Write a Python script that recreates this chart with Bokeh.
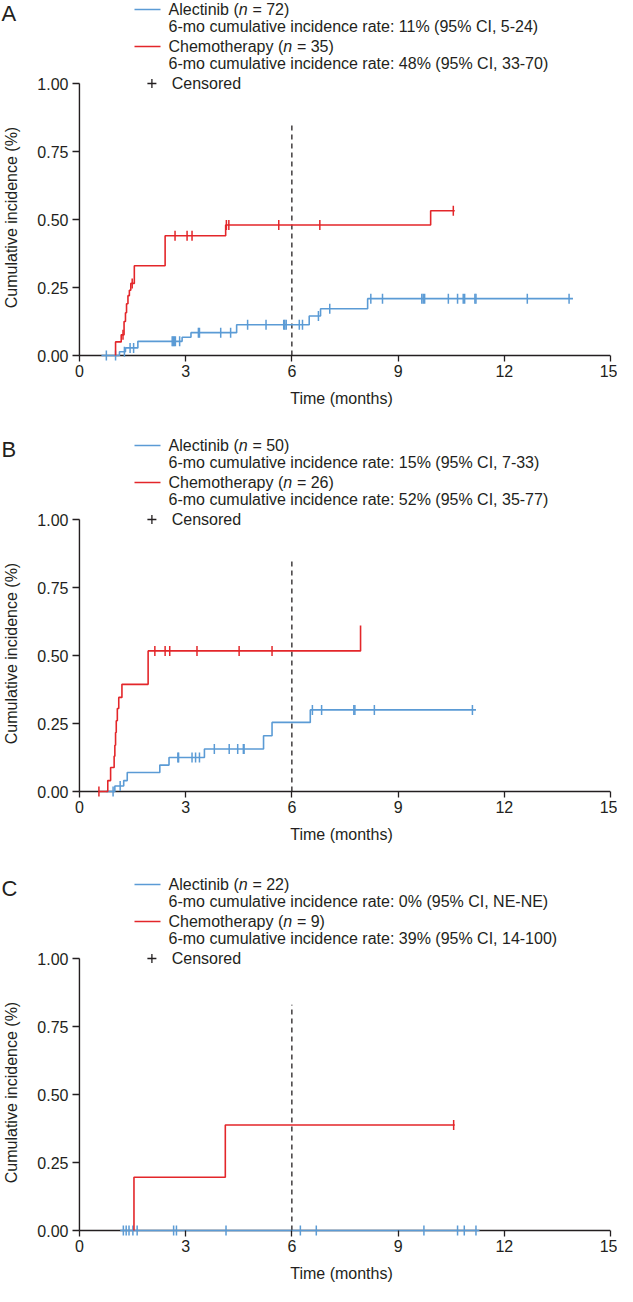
import numpy as np
from bokeh.plotting import figure
from bokeh.models import Range1d, FixedTicker, PrintfTickFormatter
from bokeh.core.properties import value
from bokeh.layouts import column
from bokeh.embed import file_html
from bokeh.resources import INLINE

# ---------------- data ----------------
x_ticks = [0, 3, 6, 9, 12, 15]
y_ticks = [0, 0.25, 0.5, 0.75, 1.0]
landmark_month = 6

# Panel A
A_alec_t = [0.62, 1.13, 1.30, 1.65, 2.90, 3.15, 4.44, 6.49, 6.81, 8.14, 13.94]
A_alec_v = [0.0, 0.014, 0.028, 0.052, 0.067, 0.084, 0.113, 0.145, 0.172, 0.209, 0.209]
A_alec_cens_t = [0.76, 1.02, 1.27, 1.43, 1.53, 2.62, 2.65, 2.68, 2.71, 2.83, 3.36, 3.39, 3.99, 4.27,
                 4.75, 5.27, 5.77, 5.80, 5.84, 6.21, 6.30, 6.75, 7.07, 8.23, 8.56, 9.67, 9.71, 9.75,
                 10.42, 10.68, 10.84, 10.88, 11.17, 11.20, 12.65, 13.83]
A_alec_cens_v = [0.0, 0.0, 0.014, 0.028, 0.028, 0.052, 0.052, 0.052, 0.052, 0.052, 0.084, 0.084, 0.084, 0.084,
                 0.113, 0.113, 0.113, 0.113, 0.113, 0.113, 0.113, 0.145, 0.172, 0.209, 0.209, 0.209, 0.209, 0.209,
                 0.209, 0.209, 0.209, 0.209, 0.209, 0.209, 0.209, 0.209]
A_chemo_t = [1.02, 1.02, 1.18, 1.26, 1.30, 1.33, 1.37, 1.41, 1.45, 1.55, 2.42, 4.13, 9.92, 10.60]
A_chemo_v = [0.0, 0.05, 0.076, 0.125, 0.157, 0.19, 0.22, 0.24, 0.265, 0.33, 0.44, 0.48, 0.532, 0.532]
A_chemo_cens_t = [1.23, 1.49, 2.70, 3.04, 3.18, 4.15, 4.22, 5.63, 6.79, 10.56]
A_chemo_cens_v = [0.076, 0.265, 0.44, 0.44, 0.44, 0.48, 0.48, 0.48, 0.48, 0.532]

# Panel B
B_alec_t = [0.75, 1.00, 1.25, 1.35, 2.27, 2.53, 3.53, 5.20, 5.44, 6.52, 11.20]
B_alec_v = [0.0, 0.02, 0.04, 0.07, 0.097, 0.125, 0.156, 0.205, 0.254, 0.30, 0.30]
B_alec_cens_t = [0.95, 1.15, 2.78, 2.80, 3.18, 3.28, 3.39, 3.81, 4.23, 4.47, 4.63, 4.65,
                 6.58, 6.84, 7.75, 7.78, 8.33, 11.10]
B_alec_cens_v = [0.0, 0.02, 0.125, 0.125, 0.125, 0.125, 0.125, 0.156, 0.156, 0.156, 0.156, 0.156,
                 0.30, 0.30, 0.30, 0.30, 0.30, 0.30]
B_chemo_t = [0.55, 0.80, 0.88, 0.98, 1.00, 1.02, 1.04, 1.07, 1.11, 1.20, 1.94, 7.94]
B_chemo_v = [0.0, 0.04, 0.088, 0.13, 0.17, 0.217, 0.26, 0.305, 0.346, 0.394, 0.517, 0.61]
B_chemo_cens_t = [0.55, 2.13, 2.42, 2.55, 3.32, 4.51, 5.44]
B_chemo_cens_v = [0.0, 0.517, 0.517, 0.517, 0.517, 0.517, 0.517]

# Panel C
C_alec_t = [1.15, 11.30]
C_alec_v = [0.0, 0.0]
C_alec_cens_t = [1.24, 1.32, 1.40, 1.51, 1.63, 2.66, 2.74, 4.14, 6.24, 6.69, 9.73, 10.68, 10.87, 11.20]
C_alec_cens_v = [0.0] * 14
C_chemo_t = [1.54, 1.54, 4.12, 10.60]
C_chemo_v = [0.0, 0.196, 0.388, 0.388]
C_chemo_cens_t = [10.57]
C_chemo_cens_v = [0.388]

legends = {
    "A": [("Alectinib (", "72", "6-mo cumulative incidence rate: 11% (95% CI, 5-24)"),
          ("Chemotherapy (", "35", "6-mo cumulative incidence rate: 48% (95% CI, 33-70)")],
    "B": [("Alectinib (", "50", "6-mo cumulative incidence rate: 15% (95% CI, 7-33)"),
          ("Chemotherapy (", "26", "6-mo cumulative incidence rate: 52% (95% CI, 35-77)")],
    "C": [("Alectinib (", "22", "6-mo cumulative incidence rate: 0% (95% CI, NE-NE)"),
          ("Chemotherapy (", "9", "6-mo cumulative incidence rate: 39% (95% CI, 14-100)")],
}
dash_top = {"A": 0.86, "B": 0.86, "C": 0.83}

# ---------------- style / layout ----------------
FONT = "Liberation Sans"
FS = 16
BLUE = "#5B9BD5"
RED = "#E3262A"
INK = "#231F20"
PPM = 35.67   # px per month
PPU = 272.0   # px per unit of y
XT = 6        # x tick length
YT = 7        # y tick length
W = 617
LEFT = 68
RIGHT = 7
MAIN_TOP = 10                 # px of main frame above y = 1.0
ROWS = [74, 57, 37, 20, 0]    # legend row offsets above y = 1.0 (px)
PRE_W = {"Alectinib (": 4.390, "Chemotherapy (": 7.169}   # em widths


def px_x(page_x):
    return (page_x - (8 + LEFT + YT)) / PPM


def ry(off):
    return 1 + off / PPU


def txt(p, x, y, text, size=FS, style="normal", color=INK):
    p.text(x=[x], y=[y], text=[text], text_font=value(FONT), text_font_size=f"{size}px",
           text_font_style=style, text_color=color, text_align="left", text_baseline="middle")


def no_align(p):
    try:
        p.frame_align = False
    except Exception:
        pass


def legend_entries(p, letter):
    x_line0, x_line1, x_text = px_x(142), px_x(168), px_x(176)
    for i, ((pre, n, rate), color) in enumerate(zip(legends[letter], (BLUE, RED))):
        y_name, y_rate = ry(ROWS[2 * i]), ry(ROWS[2 * i + 1])
        p.line([x_line0, x_line1], [y_name, y_name], line_color=color, line_width=1.6)
        pre_w = PRE_W[pre] * FS
        txt(p, x_text, y_name, pre)
        txt(p, x_text + pre_w / PPM, y_name, "n", style="italic")
        txt(p, x_text + (pre_w + 0.556 * FS + 0.30 * FS) / PPM, y_name, "= " + n + ")")
        txt(p, x_text, y_rate, rate)


def header(letter, top_px):
    h = int(top_px - MAIN_TOP)
    p = figure(width=W, height=h, output_backend="svg", toolbar_location=None,
               x_range=Range1d(px_x(8), px_x(8 + W)), y_range=Range1d(ry(MAIN_TOP), ry(top_px)),
               x_axis_type=None, y_axis_type=None, min_border=0, title=None)
    no_align(p)
    p.outline_line_color = None
    p.grid.visible = False
    txt(p, px_x(9), ry(ROWS[0] - 4), letter, size=22)
    legend_entries(p, letter)
    return p


def panel(letter, bottom, alec, chemo):
    height = int(MAIN_TOP + PPU + XT + bottom)
    p = figure(width=W, height=height, output_backend="svg", toolbar_location=None,
               x_range=Range1d(-YT / PPM, 15), y_range=Range1d(-XT / PPU, ry(MAIN_TOP)),
               min_border_left=LEFT, min_border_right=RIGHT, min_border_top=0,
               min_border_bottom=bottom, title=None)
    no_align(p)
    p.outline_line_color = None
    p.grid.visible = False

    for ax in (p.xaxis[0], p.yaxis[0]):
        ax.axis_line_color = None
        ax.minor_tick_line_color = None
        ax.major_tick_out = 0
        ax.major_tick_line_color = INK
        ax.major_tick_line_width = 1.3
        ax.major_label_text_font = FONT
        ax.major_label_text_font_size = f"{FS}px"
        ax.major_label_text_color = INK
        ax.axis_label_text_font = FONT
        ax.axis_label_text_font_size = f"{FS}px"
        ax.axis_label_text_font_style = "normal"
        ax.axis_label_text_color = INK
    xa = p.xaxis[0]
    xa.ticker = FixedTicker(ticks=x_ticks)
    xa.major_tick_in = XT
    xa.major_label_standoff = 3
    xa.axis_label = "Time (months)"
    xa.axis_label_standoff = 10
    ya = p.yaxis[0]
    ya.ticker = FixedTicker(ticks=y_ticks)
    ya.formatter = PrintfTickFormatter(format="%.2f")
    ya.major_tick_in = YT
    ya.major_label_standoff = 4
    ya.axis_label = "Cumulative incidence (%)"
    ya.axis_label_standoff = 14

    # axis lines
    p.segment(x0=[x_ticks[0]], y0=[y_ticks[0]], x1=[x_ticks[-1]], y1=[y_ticks[0]],
              line_color=INK, line_width=1.4)
    p.segment(x0=[x_ticks[0]], y0=[y_ticks[0]], x1=[x_ticks[0]], y1=[y_ticks[-1]],
              line_color=INK, line_width=1.4)
    # landmark at 6 months
    p.segment(x0=[landmark_month], y0=[0], x1=[landmark_month], y1=[dash_top[letter]],
              line_color=INK, line_width=1.3, line_dash="5 4")

    for (t, v, ct, cv), color in ((alec, BLUE), (chemo, RED)):
        p.step(t, v, mode="after", line_color=color, line_width=1.6)
        p.scatter(ct, cv, marker="dash", angle=np.pi / 2, size=10,
                  line_color=color, line_width=1.5)

    # "Censored" legend row (level with the 1.00 tick)
    p.scatter([px_x(156)], [ry(ROWS[4])], marker="cross", size=9, line_color=INK, line_width=1.3)
    txt(p, px_x(176), ry(ROWS[4]), "Censored")
    return p


hA = header("A", 83)
pA = panel("A", 56, (A_alec_t, A_alec_v, A_alec_cens_t, A_alec_cens_v),
           (A_chemo_t, A_chemo_v, A_chemo_cens_t, A_chemo_cens_v))
hB = header("B", 102)
pB = panel("B", 57, (B_alec_t, B_alec_v, B_alec_cens_t, B_alec_cens_v),
           (B_chemo_t, B_chemo_v, B_chemo_cens_t, B_chemo_cens_v))
hC = header("C", 104)
pC = panel("C", 50, (C_alec_t, C_alec_v, C_alec_cens_t, C_alec_cens_v),
           (C_chemo_t, C_chemo_v, C_chemo_cens_t, C_chemo_cens_v))

layout = column(hA, pA, hB, pB, hC, pC, spacing=0)
open("out.html", "w").write(file_html(layout, INLINE))
